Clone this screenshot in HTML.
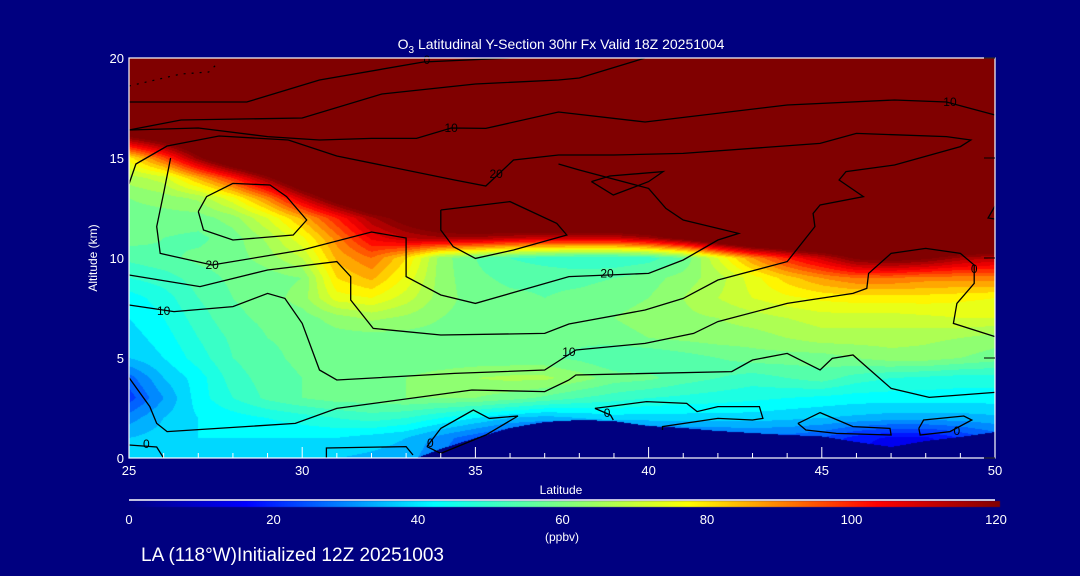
<!DOCTYPE html>
<html><head><meta charset="utf-8">
<style>
html,body{margin:0;padding:0;background:#000080;}
#wrap{position:relative;width:1080px;height:576px;overflow:hidden;background:#000080;font-family:"Liberation Sans",sans-serif;color:#fff;}
canvas{position:absolute;left:0;top:0;}
svg{position:absolute;left:0;top:0;}
svg text{font-family:"Liberation Sans",sans-serif;fill:#fff;}
</style></head>
<body>
<div id="wrap">
<canvas id="heat" width="1080" height="576"></canvas>
<svg id="ov" width="1080" height="576">
  <text x="561" y="49" font-size="14" text-anchor="middle">O<tspan font-size="10" dy="4">3</tspan><tspan dy="-4"> Latitudinal Y-Section 30hr  Fx Valid 18Z 20251004</tspan></text>
  <text x="561" y="494" font-size="12" text-anchor="middle">Latitude</text>
  <text transform="translate(97,258) rotate(-90)" font-size="12" text-anchor="middle">Altitude (km)</text>
  <text x="562" y="541" font-size="12" text-anchor="middle">(ppbv)</text>
  <text x="141" y="561" font-size="19">LA (118°W)Initialized 12Z 20251003</text>
  <g id="contours"></g>
  <g id="clabels"></g>
  <g id="axes"></g>
  <g id="cbar"></g>
</svg>
</div>
<script>
// ---- data ----
const lats = [25,26,27,28,29,30,31,32,33,34,35,36,37,38,39,40,41,42,43,44,45,46,47,48,49,50];
const alts = [0,1,2,3,4,5,6,7,8,9,10,11,12,13,14,15,16,17,18,19,20];
const o3Alt0  = [36,38,38,38,38,38,36,35,34,28,22,20,20,20,20,20,20,20,20,20,20,15,12,12,15,20];
const o3Alt1  = [36,38,40,40,40,40,40,38,36,30,25,20,20,20,20,22,24,25,26,26,24,18,15,15,20,25];
const o3Alt2  = [30,36,40,42,44,46,48,50,48,44,40,36,34,36,38,38,38,38,38,37,36,35,34,34,34,35];
const o3Alt3  = [22,32,42,48,53,56,58,58,60,60,60,58,55,52,50,48,47,46,45,44,43,42,42,42,42,42];
const o3Alt4  = [26,36,42,50,54,56,57,58,60,62,64,65,65,62,58,57,54,52,50,52,54,50,48,47,46,46];
const o3Alt5  = [36,40,46,52,55,57,57,57,57,57,57,57,57,55,52,52,54,56,58,58,58,60,62,62,60,58];
const o3Alt6  = [38,42,48,53,56,57,58,58,58,58,57,56,56,57,58,60,61,62,62,64,66,66,66,65,64,62];
const o3Alt7  = [40,44,50,55,57,58,62,65,63,60,58,58,58,58,60,62,63,64,66,68,70,70,70,71,72,72];
const o3Alt8  = [42,46,52,56,58,62,74,76,70,62,58,57,56,57,58,60,64,68,72,75,77,78,78,78,77,76];
const o3Alt9  = [48,50,54,57,58,60,80,85,75,62,57,55,55,55,56,58,62,66,74,82,88,92,92,90,90,90];
const o3Alt10 = [53,55,57,58,62,68,85,92,80,62,56,52,50,48,48,50,56,72,88,100,110,122,125,122,115,112];
const o3Alt11 = [58,56,55,58,65,75,90,105,112,115,115,112,110,110,110,115,125,138,148,150,150,150,150,150,150,150];
const o3Alt12 = [58,58,58,62,72,85,100,115,125,135,140,145,150,150,150,150,150,150,150,150,150,150,150,150,150,150];
const o3Alt13 = [60,62,65,75,90,110,128,143,150,150,150,150,150,150,150,150,150,150,150,150,150,150,150,150,150,150];
const o3Alt14 = [66,70,85,100,118,138,150,150,150,150,150,150,150,150,150,150,150,150,150,150,150,150,150,150,150,150];
const o3Alt15 = [78,95,118,138,150,150,150,150,150,150,150,150,150,150,150,150,150,150,150,150,150,150,150,150,150,150];
const o3Alt16 = [118,128,140,150,150,150,150,150,150,150,150,150,150,150,150,150,150,150,150,150,150,150,150,150,150,150];
const o3Alt17 = [150,150,150,150,150,150,150,150,150,150,150,150,150,150,150,150,150,150,150,150,150,150,150,150,150,150];
const o3Alt18 = o3Alt17, o3Alt19 = o3Alt17, o3Alt20 = o3Alt17;
const o3Rows = [o3Alt0,o3Alt1,o3Alt2,o3Alt3,o3Alt4,o3Alt5,o3Alt6,o3Alt7,o3Alt8,o3Alt9,o3Alt10,o3Alt11,o3Alt12,o3Alt13,o3Alt14,o3Alt15,o3Alt16,o3Alt17,o3Alt18,o3Alt19,o3Alt20];
const terrain = [-1,-1,-1,-1,-1,-1,-1,-1,-0.2,0.45,1.0,1.5,1.8,1.9,1.85,1.6,1.5,1.35,1.25,1.15,1.08,0.8,0.55,0.85,1.05,1.3];
const xTicks = [25,30,35,40,45,50];
const yTicks = [0,5,10,15,20];
const cbTicks = [0,20,40,60,80,100,120];
// contour lines as [lat, alt] pairs
const cTop1 = [[25,18.6],[26.5,19.2],[27.3,19.3],[27.6,19.8]];
const cTop2 = [[25,17.8],[28.4,17.8],[30.5,18.9],[33.5,19.8],[36,20]];
const cTop3 = [[25,16.4],[26.5,16.9],[30,17.0],[32.3,18.2],[35,18.7],[37.4,18.9],[38,19.0],[39.9,20]];
const c10Up = [[25,16.4],[27,16.5],[29,16.07],[30.5,15.9],[32,15.98],[33.3,15.98],[34.3,16.5],[35.3,16.48],[37.4,17.3],[39.9,16.8],[44,17.65],[47.1,17.9],[48.6,17.8],[50,17.15]];
const c20Long = [[25,13.7],[25.2,14.7],[26.1,15.6],[27.6,16.1],[29.6,15.9],[31,15.1],[34.4,13.9],[35.3,13.6],[36.1,14.9],[37.4,15.15],[39,15.15],[41,15.23],[44.95,15.73],[46,16.23],[48.6,16.07],[49.3,15.9],[49,15.57],[47.1,14.65],[45.7,14.32],[45.5,13.9],[46.2,13.07],[44.95,12.65],[44.75,12.23],[44.8,11.57],[44,9.82],[42,8.9],[41,7.98],[39.9,7.4],[37.7,6.7],[37,6.23],[34,6.15],[32.05,6.48],[31.4,7.9],[31.4,9.07],[31,9.82],[29,9.4],[27.05,8.57],[25,9.15]];
const c20Arc = [[26.2,15.0],[26.0,13.23],[25.8,11.57],[25.9,10.23],[27.4,9.65],[30,10.4],[32,11.3],[33,11.0],[33,9.07],[34,8.15],[35,7.73],[37.7,9.07],[40,9.23],[41,9.9],[42,10.9],[42.6,11.23],[41,11.9],[40.5,12.48],[40,13.48],[38,14.4],[37.4,14.7]];
const cLoopA = [[27.0,12.32],[27.24,13.07],[28.0,13.73],[29.07,13.65],[29.55,13.07],[30.13,11.9],[29.74,11.15],[28.0,10.9],[27.15,11.4],[27.0,12.32]];
const cLoopB = [[34.0,12.4],[36.0,12.82],[37.35,11.73],[37.64,11.15],[36.1,10.4],[35.0,9.98],[34.36,10.57],[34.0,11.4],[34.0,12.4]];
const cLoopC = [[38.35,13.82],[38.88,14.1],[40.42,14.32],[40.0,13.82],[38.98,13.15],[38.35,13.82]];
const cEdge = [[50,12.6],[49.8,12.0],[50,11.95]];
const c10Mid = [[25,7.65],[26.3,7.32],[28,7.57],[29,8.23],[29.5,7.98],[30,6.73],[30.5,4.4],[31,3.9],[34.4,4.23],[37,4.4],[37.9,5.4],[39.9,5.73],[41.3,6.23],[42,6.82],[44,7.73],[45.9,8.23],[46.3,8.48],[46.35,9.23],[47,10.23],[48,10.48],[49,10.23],[49.4,9.65],[49.4,8.73],[48.9,7.73],[48.8,6.73],[50,6.07]];
const cLow = [[25,4.02],[25.6,2.57],[25.8,1.73],[26.1,1.32],[29.8,1.73],[31,2.48],[34.9,3.4],[37,3.32],[37.7,3.9],[37.9,4.15],[42.4,4.32],[43,4.9],[44,5.23],[44.95,4.4],[45.3,4.98],[45.9,5.15],[47,3.48],[48.1,3.03],[50,3.28]];
const c0a = [[25,0.65],[25.8,0.55],[26.0,0]];
const c0b = [[30.7,0],[30.7,0.5],[33.0,0.57],[33.2,0.15]];
const c0c = [[33.6,0.57],[34.0,1.48],[34.94,2.4],[35.4,1.98],[36.23,2.1],[35.3,1.15],[34.0,0.23],[33.6,0.57]];
const c0d = [[38.45,2.48],[39.94,2.82],[41.1,2.73],[41.4,2.32],[42,2.57],[43.2,2.57],[43.3,1.98],[43.0,1.9],[42,1.98],[40.4,1.57],[40.4,1.4]];
const c0e = [[38.45,2.48],[38.9,2.15],[38.98,1.9]];
const c0f = [[44.31,1.73],[44.95,2.27],[45.9,1.57],[46.97,1.48],[47.0,1.15],[45.42,1.23],[44.54,1.4],[44.31,1.73]];
const c0g = [[47.8,1.48],[47.94,1.9],[49.1,2.1],[49.33,1.9],[48.7,1.32],[47.84,1.15],[47.8,1.48]];
const contourSet = [cTop2,cTop3,c10Up,c20Long,c20Arc,cLoopA,cLoopB,cLoopC,cEdge,c10Mid,cLow,c0a,c0b,c0c,c0d,c0e,c0f,c0g];
const labelText = ["10","10","20","20","20","10","10","0","0","0","0","0","0"];
const labelPos  = [[34.3,16.5],[48.7,17.8],[27.4,9.65],[38.8,9.23],[35.6,14.2],[26.0,7.35],[37.7,5.3],[25.5,0.7],[33.7,0.75],[38.8,2.25],[48.9,1.35],[33.6,19.9],[49.4,9.45]];

// ---- axes ----
const X0=129, X1=995, Y0=58, Y1=458;
const xs = lat => X0 + (lat-25)/25*(X1-X0);
const ys = alt => Y1 - alt/20*(Y1-Y0);
const stops = [[0,[0,0,128]],[16,[0,0,255]],[42,[0,255,255]],[60,[128,255,128]],[77,[255,255,0]],[103,[255,0,0]],[120,[128,0,0]]];
function cmap(v){
  if(v<=0) return stops[0][1];
  if(v>=120) return stops[stops.length-1][1];
  for(let i=1;i<stops.length;i++){ if(v<=stops[i][0]){const a=stops[i-1],b=stops[i],t=(v-a[0])/(b[0]-a[0]);return a[1].map((c,k)=>Math.round(c+(b[1][k]-c)*t));}}
}
function field(lat,alt){
  let fi=Math.max(0,Math.min(lats.length-1.0001,(lat-lats[0])));
  let fj=Math.max(0,Math.min(alts.length-1.0001,alt));
  const i=Math.floor(fi),j=Math.floor(fj),u=fi-i,w=fj-j;
  const r0=o3Rows[j],r1=o3Rows[j+1];
  return (r0[i]*(1-u)+r0[i+1]*u)*(1-w)+(r1[i]*(1-u)+r1[i+1]*u)*w;
}
function terr(lat){
  let fi=Math.max(0,Math.min(lats.length-1.0001,lat-lats[0]));const i=Math.floor(fi),u=fi-i;
  return terrain[i]*(1-u)+terrain[i+1]*u;
}
// heatmap
const cv=document.getElementById('heat'),ctx=cv.getContext('2d');
const img=ctx.createImageData(X1-X0,Y1-Y0);
for(let py=0;py<Y1-Y0;py++){const alt=(Y1-Y0-py-0.5)/(Y1-Y0)*20;
  for(let px=0;px<X1-X0;px++){const lat=25+(px+0.5)/(X1-X0)*25;
    let c;
    if(alt<terr(lat)) c=[0,0,128]; else {let v=field(lat,alt);v=Math.floor(v/4)*4+2;c=cmap(v);}
    const k=(py*(X1-X0)+px)*4;img.data[k]=c[0];img.data[k+1]=c[1];img.data[k+2]=c[2];img.data[k+3]=255;}}
ctx.putImageData(img,X0,Y0);
// colorbar gradient
const cbX0=129,cbX1=1000;
for(let x=cbX0;x<cbX1;x++){const c=cmap((x-cbX0)/(cbX1-cbX0)*120);ctx.fillStyle=`rgb(${c[0]},${c[1]},${c[2]})`;ctx.fillRect(x,501,1,6);}

const NS='http://www.w3.org/2000/svg';
function mk(tag,attrs,parent){const e=document.createElementNS(NS,tag);for(const k in attrs)e.setAttribute(k,attrs[k]);parent.appendChild(e);return e;}
const gC=document.getElementById('contours');
contourSet.forEach((pts,n)=>{
  const p=mk('polyline',{points:pts.map(q=>xs(q[0]).toFixed(1)+','+ys(q[1]).toFixed(1)).join(' '),fill:'none',stroke:'#000','stroke-width':1.3},gC);
  
  
});
const pd=mk('polyline',{points:cTop1.map(q=>xs(q[0]).toFixed(1)+','+ys(q[1]).toFixed(1)).join(' '),fill:'none',stroke:'#000','stroke-width':1.2,'stroke-dasharray':'2,6'},gC);


const gL=document.getElementById('clabels');
labelText.forEach((t,i)=>{
  const e=mk('text',{x:xs(labelPos[i][0]),y:ys(labelPos[i][1])+4,'font-size':12,'text-anchor':'middle',style:'fill:#000'},gL);
  e.textContent=t;
  
  
});
const gA=document.getElementById('axes');
const fr=mk('rect',{x:X0,y:Y0,width:X1-X0,height:Y1-Y0,fill:'none',stroke:'#fff','stroke-width':1.2},gA);


for(let l=25;l<=50;l++){const major=xTicks.includes(l);
  const t=mk('line',{x1:xs(l),x2:xs(l),y1:Y1,y2:Y1-(major?11:5),stroke:'#fff'},gA);
  
  }
yTicks.forEach(a=>{const e=mk('text',{x:X0-5,y:ys(a)+5,'font-size':13,'text-anchor':'end'},gA);e.textContent=a;
  
  
  const t=mk('line',{x1:X1,x2:X1-11,y1:ys(a),y2:ys(a),stroke:'#000'},gA);
  
  });
xTicks.forEach(l=>{const e=mk('text',{x:xs(l),y:Y1+17,'font-size':13,'text-anchor':'middle'},gA);e.textContent=l;
  
  });
const gB=document.getElementById('cbar');
const cl=mk('line',{x1:129,x2:995,y1:500,y2:500,stroke:'#fff','stroke-width':1.5},gB);


cbTicks.forEach(v=>{const e=mk('text',{x:cbX0+v/120*(996-cbX0),y:524,'font-size':13,'text-anchor':'middle'},gB);e.textContent=v;
  
  });
</script>
</body></html>
